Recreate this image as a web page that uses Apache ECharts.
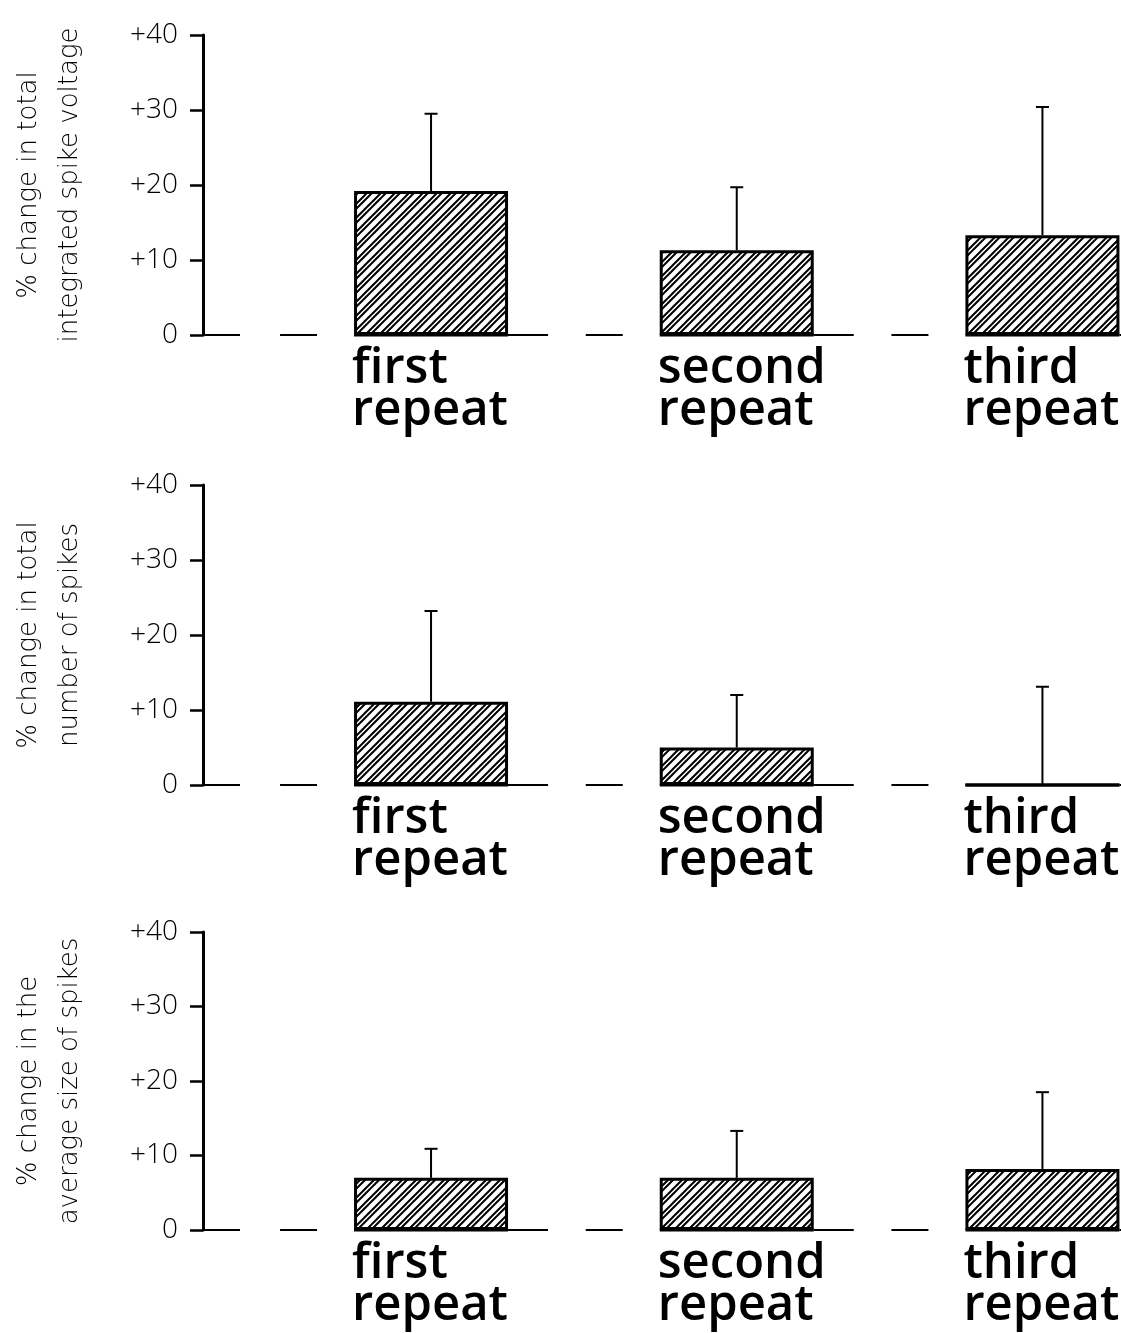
<!DOCTYPE html>
<html>
<head>
<meta charset="utf-8">
<script src="https://cdn.jsdelivr.net/npm/echarts@6/dist/echarts.min.js"></script>
<style>
  html, body { margin: 0; padding: 0; background: #fff; }
  #chart { width: 1121px; height: 1333px; }
</style>
</head>
<body>
<div id="chart"></div>
<script>
// ---- data ----
const categories = ['first\nrepeat', 'second\nrepeat', 'third\nrepeat'];
const tickLabels = ['0', '+10', '+20', '+30', '+40'];
const axisNames = [
  '% change in total\nintegrated spike voltage',
  '% change in total\nnumber of spikes',
  '% change in the\naverage size of spikes'
];
// panel 1: total integrated spike voltage
const voltageMean = [19.2, 11.3, 13.3];
const voltageUpper = [29.5, 19.7, 30.4];
// panel 2: total number of spikes
const countMean = [11.1, 5.0, 0];
const countUpper = [23.2, 12.0, 13.1];
// panel 3: average size of spikes
const sizeMean = [7.0, 7.0, 8.2];
const sizeUpper = [10.9, 13.3, 18.5];

const means = [voltageMean, countMean, sizeMean];
const uppers = [voltageUpper, countUpper, sizeUpper];

// ---- styling ----
const BAR_W = 154;
const LIGHT = '"Open Sans", "DejaVu Sans", sans-serif';
const NAME_FONT = '"DejaVu Sans", sans-serif';
const grids = [
  { left: 203, right: 0, top: 35, height: 300 },
  { left: 203, right: 0, top: 485, height: 300 },
  { left: 203, right: 0, top: 932, height: 298 }
];

// hatch pattern tile: pairs of diagonal lines
function makeHatch() {
  const s = 14;
  const c = document.createElement('canvas');
  c.width = s; c.height = s;
  const ctx = c.getContext('2d');
  ctx.fillStyle = '#fff';
  ctx.fillRect(0, 0, s, s);
  ctx.strokeStyle = '#000';
  ctx.lineWidth = 2;
  ctx.beginPath();
  [0, 5].forEach(function (o) {
    for (let k = -1; k <= 1; k++) {
      const d = o + k * s;
      ctx.moveTo(d - 2, s + 2); ctx.lineTo(d + s + 2, -2);
    }
  });
  ctx.stroke();
  return c;
}
const hatch = makeHatch();

const chart = echarts.init(document.getElementById('chart'), null, { renderer: 'canvas' });

const xAxes = [], yAxes = [], series = [];
for (let p = 0; p < 3; p++) {
  xAxes.push({
    gridIndex: p, type: 'value', min: -0.746, max: 2.257,
    show: false
  });
  yAxes.push({
    gridIndex: p, type: 'value', min: 0, max: 40, interval: 10,
    axisLine: { show: true, onZero: false, lineStyle: { color: '#000', width: 3 } },
    axisTick: { show: true, length: 13, lineStyle: { color: '#000', width: 2.5 } },
    splitLine: { show: false },
    axisLabel: {
      color: '#000', fontSize: 28, fontFamily: LIGHT, fontWeight: 300, margin: 25,
      formatter: function (v) { return tickLabels[Math.round(v / 10)]; }
    },
    name: axisNames[p],
    nameLocation: 'middle',
    nameRotate: 90,
    nameGap: 112,
    nameTextStyle: {
      color: '#000', fontSize: 26, fontFamily: NAME_FONT, fontWeight: 200, lineHeight: 41
    }
  });

  // baseline segments + category labels
  series.push({
    type: 'custom',
    xAxisIndex: p, yAxisIndex: p,
    clip: false,
    z: 1,
    silent: true,
    data: categories.map(function (c, i) { return [i, 0]; }),
    encode: { x: 0, y: 1 },
    renderItem: function (params, api) {
      const i = params.dataIndex;
      const pt = api.coord([api.value(0), 0]);
      const cx = pt[0], y0 = pt[1];
      const l = cx - BAR_W / 2, r = cx + BAR_W / 2;
      const children = [
        { type: 'line', shape: { x1: l - 74, y1: y0, x2: l - 37, y2: y0 }, style: { stroke: '#000', lineWidth: 2 } },
        { type: 'line', shape: { x1: l, y1: y0, x2: r, y2: y0 }, style: { stroke: '#000', lineWidth: 3 } },
        { type: 'line', shape: { x1: r, y1: y0, x2: r + 40, y2: y0 }, style: { stroke: '#000', lineWidth: 2 } },
        {
          type: 'text',
          style: {
            text: categories[i], x: l - 2, y: y0 + 13,
            fill: '#000', fontSize: 49, fontFamily: '"Open Sans", sans-serif', fontWeight: 600,
            lineHeight: 42, align: 'left', verticalAlign: 'top'
          }
        }
      ];
      if (i === 0) {
        const ax = params.coordSys.x;
        children.push({ type: 'line', shape: { x1: ax, y1: y0, x2: ax + 37, y2: y0 }, style: { stroke: '#000', lineWidth: 2 } });
      }
      return { type: 'group', children: children };
    }
  });

  // hatched bars
  series.push({
    type: 'bar',
    xAxisIndex: p, yAxisIndex: p,
    barWidth: BAR_W,
    z: 2,
    silent: true,
    data: means[p].map(function (v, i) { return [i, v]; }),
    itemStyle: {
      color: { image: hatch, repeat: 'repeat' },
      borderColor: '#000', borderWidth: 3
    }
  });

  // upper error bars
  series.push({
    type: 'custom',
    xAxisIndex: p, yAxisIndex: p,
    z: 3,
    silent: true,
    data: means[p].map(function (v, i) { return [i, v, uppers[p][i]]; }),
    encode: { x: 0, y: [1, 2] },
    renderItem: function (params, api) {
      const a = api.coord([api.value(0), api.value(1)]);
      const b = api.coord([api.value(0), api.value(2)]);
      return {
        type: 'group',
        children: [
          { type: 'line', shape: { x1: a[0], y1: a[1], x2: b[0], y2: b[1] }, style: { stroke: '#000', lineWidth: 2 } },
          { type: 'line', shape: { x1: b[0] - 6.5, y1: b[1], x2: b[0] + 6.5, y2: b[1] }, style: { stroke: '#000', lineWidth: 2 } }
        ]
      };
    }
  });
}

chart.setOption({
  backgroundColor: '#fff',
  animation: false,
  grid: grids,
  xAxis: xAxes,
  yAxis: yAxes,
  series: series
});
</script>
</body>
</html>
